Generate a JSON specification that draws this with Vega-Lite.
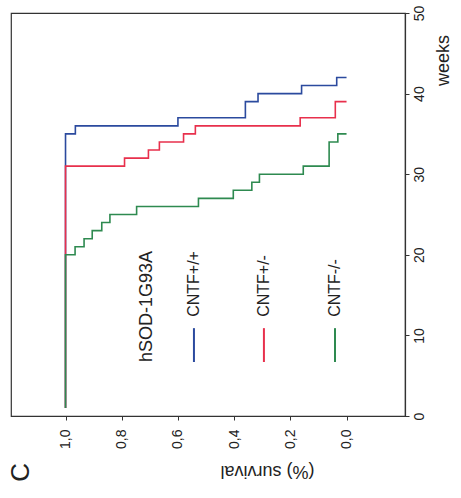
{
  "$schema": "https://vega.github.io/schema/vega-lite/v6.json",
  "width": 394,
  "height": 403,
  "autosize": "none",
  "padding": {"left": 11, "top": 13, "right": 56, "bottom": 82},
  "background": "white",
  "config": {"view": {"stroke": "#333", "strokeWidth": 1.2}, "font": "Liberation Sans"},
  "datasets": {
    "km": [
      {"group": "CNTF+/+", "week": 1, "surv": 1.0},
      {"group": "CNTF+/+", "week": 35, "surv": 0.965},
      {"group": "CNTF+/+", "week": 36, "surv": 0.6},
      {"group": "CNTF+/+", "week": 37, "surv": 0.36},
      {"group": "CNTF+/+", "week": 39, "surv": 0.315},
      {"group": "CNTF+/+", "week": 40, "surv": 0.16},
      {"group": "CNTF+/+", "week": 41, "surv": 0.035},
      {"group": "CNTF+/+", "week": 42, "surv": 0.0},
      {"group": "CNTF+/-", "week": 1, "surv": 1.0},
      {"group": "CNTF+/-", "week": 31, "surv": 0.79},
      {"group": "CNTF+/-", "week": 32, "surv": 0.705},
      {"group": "CNTF+/-", "week": 33, "surv": 0.666},
      {"group": "CNTF+/-", "week": 34, "surv": 0.58},
      {"group": "CNTF+/-", "week": 35, "surv": 0.538},
      {"group": "CNTF+/-", "week": 36, "surv": 0.165},
      {"group": "CNTF+/-", "week": 37, "surv": 0.04},
      {"group": "CNTF+/-", "week": 39, "surv": 0.0},
      {"group": "CNTF-/-", "week": 1, "surv": 1.0},
      {"group": "CNTF-/-", "week": 20, "surv": 0.966},
      {"group": "CNTF-/-", "week": 21, "surv": 0.934},
      {"group": "CNTF-/-", "week": 22, "surv": 0.905},
      {"group": "CNTF-/-", "week": 23, "surv": 0.871},
      {"group": "CNTF-/-", "week": 24, "surv": 0.842},
      {"group": "CNTF-/-", "week": 25, "surv": 0.747},
      {"group": "CNTF-/-", "week": 26, "surv": 0.527},
      {"group": "CNTF-/-", "week": 27, "surv": 0.403},
      {"group": "CNTF-/-", "week": 28, "surv": 0.337},
      {"group": "CNTF-/-", "week": 29, "surv": 0.31},
      {"group": "CNTF-/-", "week": 30, "surv": 0.154},
      {"group": "CNTF-/-", "week": 31, "surv": 0.062},
      {"group": "CNTF-/-", "week": 34, "surv": 0.031},
      {"group": "CNTF-/-", "week": 35, "surv": 0.0}
    ],
    "legendLines": [
      {"group": "CNTF+/+", "surv": 0.543, "week": 6.7, "week2": 10.9},
      {"group": "CNTF+/-", "surv": 0.294, "week": 6.7, "week2": 10.9},
      {"group": "CNTF-/-", "surv": 0.041, "week": 6.7, "week2": 10.9}
    ],
    "legendLabels": [
      {"label": "CNTF+/+", "surv": 0.543, "week": 12.3},
      {"label": "CNTF+/-", "surv": 0.294, "week": 12.3},
      {"label": "CNTF-/-", "surv": 0.041, "week": 12.3}
    ],
    "strain": [{"label": "hSOD-1G93A", "surv": 0.711, "week": 6.7}],
    "panel": [{"label": "C", "surv": 1.158, "week": -7.0}]
  },
  "layer": [
    {
      "data": {"name": "km"},
      "mark": {"type": "line", "interpolate": "step-before", "strokeWidth": 1.6},
      "encoding": {
        "x": {
          "field": "surv", "type": "quantitative",
          "scale": {"domain": [-0.208, 1.194], "reverse": true, "nice": false, "zero": false},
          "axis": {
            "title": "(%) survival",
            "values": [0, 0.2, 0.4, 0.6, 0.8, 1],
            "labelExpr": "replace(format(datum.value, '.1f'), '.', ',')",
            "labelAngle": 270, "labelAlign": "right", "labelBaseline": "middle",
            "labelPadding": 9, "tickSize": 4, "grid": false,
            "domainColor": "#333", "tickColor": "#333", "domainWidth": 1.2,
            "labelFontSize": 14, "labelColor": "#222",
            "titleAngle": 180, "titleX": 256, "titleY": 54,
            "titleAlign": "center", "titleBaseline": "middle",
            "titleFontSize": 18, "titleFontWeight": "normal", "titleColor": "#222"
          }
        },
        "y": {
          "field": "week", "type": "quantitative",
          "scale": {"domain": [0, 50], "nice": false},
          "axis": {
            "orient": "right", "title": "weeks",
            "values": [0, 10, 20, 30, 40, 50],
            "labelAngle": 270, "labelAlign": "center", "labelBaseline": "top",
            "labelPadding": 3, "tickSize": 4, "grid": false,
            "domainColor": "#333", "tickColor": "#333", "domainWidth": 1.2,
            "labelFontSize": 14, "labelColor": "#222",
            "titleAngle": 270, "titleX": 38, "titleY": 47,
            "titleAlign": "center", "titleBaseline": "middle",
            "titleFontSize": 18, "titleFontWeight": "normal", "titleColor": "#222"
          }
        },
        "color": {
          "field": "group", "type": "nominal",
          "scale": {"domain": ["CNTF+/+", "CNTF+/-", "CNTF-/-"], "range": ["#2b4a9e", "#e8304c", "#2e8a50"]},
          "legend": null
        },
        "order": {"field": "week", "type": "quantitative"}
      }
    },
    {
      "data": {"name": "legendLines"},
      "mark": {"type": "rule", "strokeWidth": 2},
      "encoding": {
        "x": {"field": "surv", "type": "quantitative"},
        "y": {"field": "week", "type": "quantitative"},
        "y2": {"field": "week2"},
        "color": {"field": "group", "type": "nominal"}
      }
    },
    {
      "data": {"name": "legendLabels"},
      "mark": {"type": "text", "angle": 270, "align": "left", "baseline": "middle", "fontSize": 16, "color": "#222"},
      "encoding": {
        "x": {"field": "surv", "type": "quantitative"},
        "y": {"field": "week", "type": "quantitative"},
        "text": {"field": "label"}
      }
    },
    {
      "data": {"name": "strain"},
      "mark": {"type": "text", "angle": 270, "align": "left", "baseline": "middle", "fontSize": 18, "color": "#222"},
      "encoding": {
        "x": {"field": "surv", "type": "quantitative"},
        "y": {"field": "week", "type": "quantitative"},
        "text": {"field": "label"}
      }
    },
    {
      "data": {"name": "panel"},
      "mark": {"type": "text", "angle": 270, "align": "center", "baseline": "middle", "fontSize": 26, "color": "#222"},
      "encoding": {
        "x": {"field": "surv", "type": "quantitative"},
        "y": {"field": "week", "type": "quantitative"},
        "text": {"field": "label"}
      }
    }
  ]
}
